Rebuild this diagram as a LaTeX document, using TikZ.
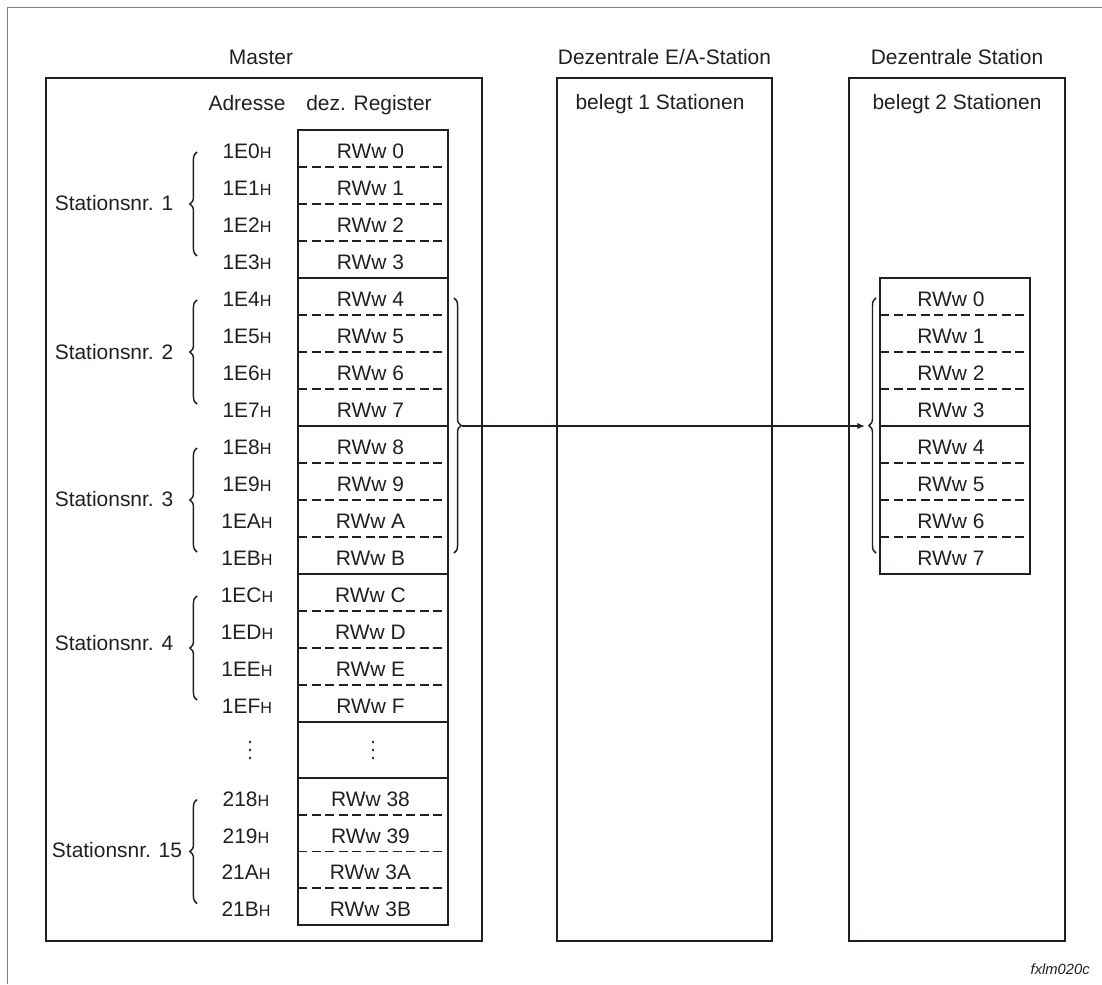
\documentclass[tikz,border=0pt]{standalone}
\usepackage{fontspec}
\setmainfont{Liberation Sans}
\usetikzlibrary{decorations.pathreplacing,arrows.meta}

\definecolor{ink}{HTML}{231F20}
\definecolor{framegray}{HTML}{7F7F7F}

% small capital H used as hex suffix
\newcommand\hexH{{\fontsize{11.5}{11.5}\selectfont H}}

\begin{document}
\begin{tikzpicture}[x=0.025cm,y=-0.025cm,
  txt/.style={inner sep=0pt,anchor=base,font=\fontsize{14.9}{17}\selectfont,text=ink},
  box/.style={draw=ink,line width=1.6pt},
  cellsep/.style={draw=ink,line width=1.35pt,dash pattern=on 6.6pt off 3.0pt},
  groupsep/.style={draw=ink,line width=1.6pt},
  brc/.style={draw=ink,line width=1.05pt,decorate,decoration={brace,amplitude=5pt}},
  dotmark/.style={fill=ink}
]
\useasboundingbox (0,0) rectangle (1102,984);

% page frame
\draw[framegray,line width=1.2pt] (7.5,984) -- (7.5,7.5) -- (1102,7.5);

% column headings
\node[txt] (tMaster) at (261,64.3) {Master};
\node[txt] (tEA) at (664.5,64.3) {Dezentrale E/A-Station};
\node[txt] (tDS) at (957,64.3) {Dezentrale Station};

% station boxes
\draw[box] (46,78) rectangle (482,941);
\draw[box] (557,78) rectangle (772,941);
\draw[box] (849,78) rectangle (1065,941);

\node[txt] (tBel1) at (660,110) {belegt 1 Stationen};
\node[txt] (tBel2) at (957,110) {belegt 2 Stationen};

% master register table
\node[txt] (tAdr) at (247,111) {Adresse};
\node[txt] (tReg) at (369,111) {dez. Register};

\draw[box] (298,130) rectangle (448,925);
\foreach \k in {1,2,3,5,6,7,9,10,11,13,14,15}
  \draw[cellsep] (298,130+37*\k) -- (448,130+37*\k);
\foreach \yy in {278,426,574,722,778}
  \draw[groupsep] (298,\yy) -- (448,\yy);
\foreach \yy in {814.75,851.5,888.25}
  \draw[cellsep] (298,\yy) -- (448,\yy);

\foreach \i/\h in {0/0,1/1,2/2,3/3,4/4,5/5,6/6,7/7,8/8,9/9,10/A,11/B,12/C,13/D,14/E,15/F} {
  \node[txt] (adr\i) at (247,158.3+37*\i) {1E\h\hexH};
  \node[txt] (reg\i) at (370.5,158.3+37*\i) {RWw \h};
}
\foreach \i/\h in {0/8,1/9,2/A,3/B} {
  \node[txt] (adrL\i) at (246,806.3+36.75*\i) {21\h\hexH};
  \node[txt] (regL\i) at (370.5,806.3+36.75*\i) {RWw 3\h};
}

% continuation dots
\foreach \xx in {250,373}
  \foreach \yy in {742,750,758}
    \fill[dotmark] (\xx,\yy) ellipse [x radius=0.8pt, y radius=1.1pt];

% station labels and braces
\node[txt] (st1) at (114,210) {Stationsnr. 1};
\node[txt] (st2) at (114,359.5) {Stationsnr. 2};
\node[txt] (st3) at (114,506.5) {Stationsnr. 3};
\node[txt] (st4) at (114,650) {Stationsnr. 4};
\node[txt] (st15) at (117,857) {Stationsnr. 15};
\foreach \c in {204,352,500,648,851.5}
  \draw[brc] (197,\c+52) -- (197,\c-52);

% register block of the remote station
\draw[box] (880,278) rectangle (1030,574);
\foreach \k in {1,2,3,5,6,7}
  \draw[cellsep] (880,278+37*\k) -- (1030,278+37*\k);
\draw[groupsep] (880,426) -- (1030,426);
\foreach \i in {0,...,7}
  \node[txt] (rs\i) at (951,306.3+37*\i) {RWw \i};

% mapping braces and transfer arrow
\draw[brc] (454,298) -- (454,553);
\draw[brc] (876,553) -- (876,298);
\coordinate (srcTip) at (462,426);
\coordinate (dstTip) at (865,426);
\draw[ink,line width=1.0pt,-{Latex[length=5.5pt,width=4.5pt]}] (srcTip) -- (dstTip);

% figure code
\node[txt,anchor=base east,font=\fontsize{10.5}{12}\selectfont\itshape] (code) at (1090,974) {fxlm020c};
\end{tikzpicture}
\end{document}
